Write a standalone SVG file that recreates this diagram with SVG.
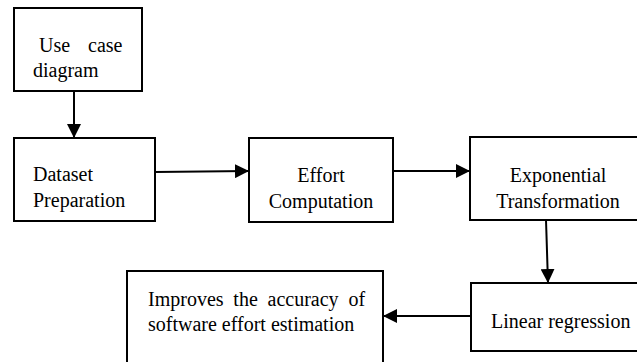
<svg xmlns="http://www.w3.org/2000/svg" width="637" height="362" viewBox="0 0 637 362">
<style>
.box{fill:#fff;stroke:#000;stroke-width:2}
.t{font-family:'Liberation Serif','Times New Roman',serif;font-size:20px;fill:#000}
.c{text-anchor:middle}
.ln{stroke:#000;stroke-width:2;fill:none;marker-end:url(#ah)}
</style>
<defs>
<marker id="ah" markerUnits="userSpaceOnUse" markerWidth="15" markerHeight="14" refX="14" refY="7" orient="auto">
<path d="M0,0 L14,7 L0,14 Z" fill="#000"/>
</marker>
</defs>
<rect width="637" height="362" fill="#fff"/>
<g id="n-usecase">
<rect class="box" x="14" y="8" width="128" height="83"/>
<text class="t" y="52"><tspan x="39">Use</tspan><tspan x="88">case</tspan></text>
<text class="t" x="33" y="77">diagram</text>
</g>
<g id="n-dataset">
<rect class="box" x="14" y="138" width="141" height="83"/>
<text class="t" x="33" y="181">Dataset</text>
<text class="t" x="33" y="207">Preparation</text>
</g>
<g id="n-effort">
<rect class="box" x="249" y="138" width="144" height="84"/>
<text class="t c" x="321" y="182">Effort</text>
<text class="t c" x="321" y="208">Computation</text>
</g>
<g id="n-exp">
<rect class="box" x="470" y="137" width="180" height="83"/>
<text class="t c" x="558" y="182">Exponential</text>
<text class="t c" x="558" y="208">Transformation</text>
</g>
<g id="n-linear">
<rect class="box" x="471" y="283" width="180" height="68"/>
<text class="t" x="491" y="328">Linear regression</text>
</g>
<g id="n-improves">
<rect class="box" x="127" y="271" width="256" height="100"/>
<text class="t" x="148" y="306" word-spacing="4.8">Improves the accuracy of</text>
<text class="t" x="148" y="331">software effort estimation</text>
</g>
<g id="connectors">
<line class="ln" x1="74" y1="91" x2="74" y2="138"/>
<line class="ln" x1="155" y1="172" x2="249" y2="171"/>
<line class="ln" x1="393" y1="171" x2="470" y2="171"/>
<line class="ln" x1="546" y1="220" x2="548" y2="283"/>
<line class="ln" x1="471" y1="316" x2="383" y2="316"/>
</g>
</svg>
